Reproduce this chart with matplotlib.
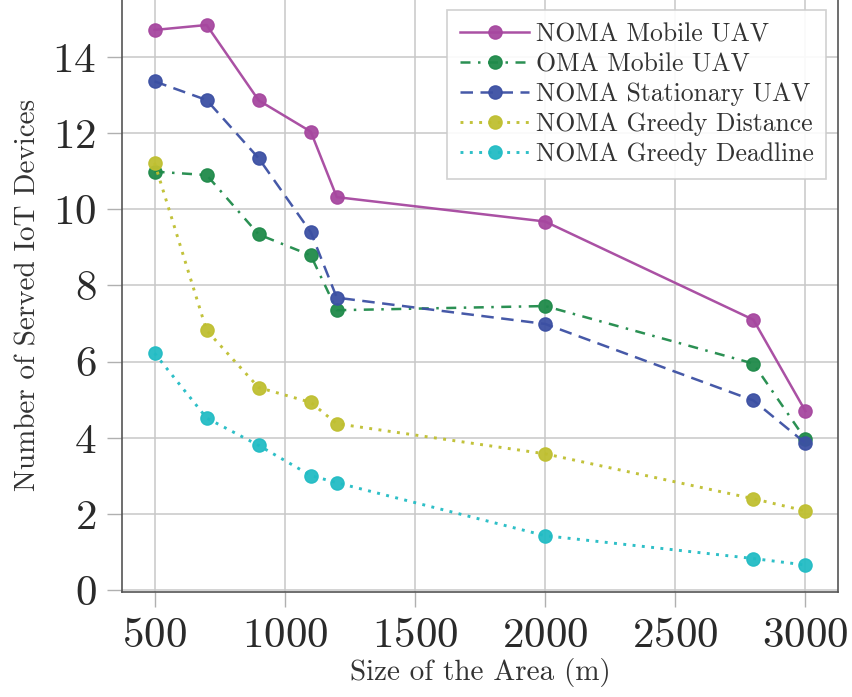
import matplotlib
matplotlib.use("Agg")
import matplotlib.pyplot as plt

area = [500, 700, 900, 1100, 1200, 2000, 2800, 3000]
noma_mobile = [14.71, 14.84, 12.86, 12.04, 10.32, 9.68, 7.10, 4.70]
oma_mobile = [10.99, 10.90, 9.34, 8.79, 7.35, 7.46, 5.95, 3.96]
noma_stationary = [13.36, 12.87, 11.34, 9.40, 7.68, 6.99, 4.98, 3.86]
greedy_distance = [11.22, 6.82, 5.32, 4.93, 4.37, 3.58, 2.40, 2.08]
greedy_deadline = [6.22, 4.52, 3.80, 3.01, 2.82, 1.43, 0.83, 0.66]

labels = ["NOMA Mobile UAV", "OMA Mobile UAV", "NOMA Stationary UAV",
          "NOMA Greedy Distance", "NOMA Greedy Deadline"]
colors = ["#a6479f", "#1f8a4a", "#3c50a3", "#bfbf30", "#22bcc4"]
styles = ["-", (0, (4, 3, 1, 3)), (0, (5, 3)), (0, (1, 2.2)), (0, (1, 2.2))]
widths = [1.8, 1.8, 1.8, 2.1, 2.1]

plt.rcParams['font.family'] = ['cmr10', 'DejaVu Serif']
plt.rcParams['mathtext.fontset'] = 'cm'
plt.rcParams['axes.formatter.use_mathtext'] = True

fig = plt.figure(figsize=(8.53, 6.97), dpi=100)
ax = fig.add_axes([122/853, 1 - 592/697, (838-122)/853, 594/697])

series = [noma_mobile, oma_mobile, noma_stationary, greedy_distance, greedy_deadline]
for ys, lab, c, ls, w in zip(series, labels, colors, styles, widths):
    ax.plot(area, ys, linestyle=ls, color=c, lw=w, marker='o', markersize=9.5,
            label=lab, alpha=0.95)

ax.set_xticks([500, 1000, 1500, 2000, 2500, 3000])
ax.set_yticks([0, 2, 4, 6, 8, 10, 12, 14])
ax.grid(True, color='#c8c8c8', lw=1.1)
ax.set_axisbelow(True)
ax.tick_params(axis='both', which='major', labelsize=31, length=10.5, width=1.0,
               color='#b0b0b0', pad=8, labelcolor='#2a2a2a')
for s in ['left', 'bottom', 'right']:
    ax.spines[s].set_color('#555555')
    ax.spines[s].set_linewidth(1.2)
ax.spines['top'].set_visible(False)

ax.set_xlabel("Size of the Area (m)", fontsize=21, color='#333333', labelpad=2)
ax.set_ylabel("Number of Served IoT Devices", fontsize=21, color='#333333', labelpad=8)

leg = ax.legend(loc='upper right', fontsize=18.5, handlelength=2.7, handletextpad=0.25,
                labelspacing=0.24, borderpad=0.5, borderaxespad=0.45,
                fancybox=False, framealpha=0.9, edgecolor='#cccccc')
leg.get_frame().set_linewidth(1.2)
for t in leg.get_texts():
    t.set_color('#333333')

fig.savefig("out.png", dpi=100)
